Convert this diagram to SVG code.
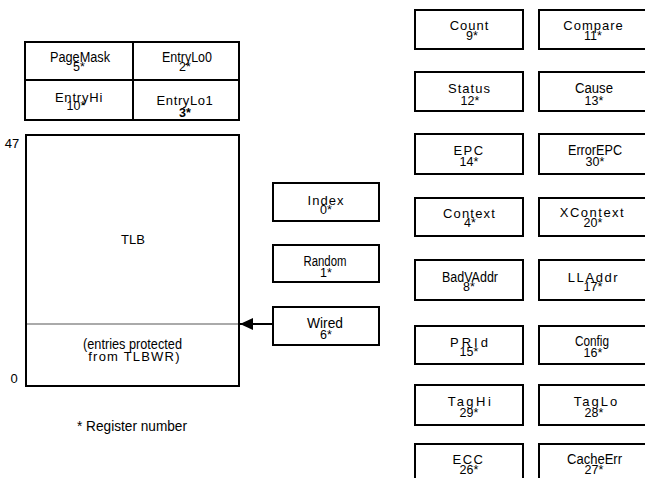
<svg xmlns="http://www.w3.org/2000/svg" width="645" height="478" viewBox="0 0 645 478">
<style>
.box{fill:#fff;stroke:#000;stroke-width:2}
text{font-family:"Liberation Sans",Arial,sans-serif;font-size:13px;fill:#000;text-anchor:middle}
.nw{font-size:14px}
.n{font-size:12.5px}
</style>
<defs>
<marker id="ah" markerWidth="14" markerHeight="14" refX="13" refY="6" orient="auto" markerUnits="userSpaceOnUse">
<path d="M0,0 L13,6 L0,12 Z" fill="#000"/>
</marker>
</defs>
<rect width="645" height="478" fill="#fff"/>
<g id="tlbregs">
<rect class="box" x="25" y="42" width="214" height="78"/>
<line x1="133" y1="42" x2="133" y2="120" stroke="#000" stroke-width="2"/>
<line x1="25" y1="80" x2="239" y2="80" stroke="#000" stroke-width="2"/>
</g>
<g id="pagemask"><text class="nw" x="80" y="61.5" textLength="60" lengthAdjust="spacingAndGlyphs">PageMask</text><text class="n" x="79" y="70.5">5*</text></g>
<g id="entrylo0"><text class="nw" x="187" y="61.5" textLength="50" lengthAdjust="spacingAndGlyphs">EntryLo0</text><text class="n" x="185" y="70.5">2*</text></g>
<g id="entryhi"><text x="79" y="101.5" letter-spacing="0.8">EntryHi</text><text class="n" x="76" y="110">10*</text></g>
<g id="entrylo1"><text x="185" y="105" letter-spacing="0.6">EntryLo1</text><text class="n" x="185" y="116.5" font-weight="bold">3*</text></g>
<g id="tlb">
<rect class="box" x="26" y="135" width="213" height="251"/>
<line x1="27" y1="324" x2="238" y2="324" stroke="#aaa" stroke-width="2"/>
<text x="133" y="244">TLB</text>
<text class="nw" x="132.5" y="349" textLength="99" lengthAdjust="spacingAndGlyphs">(entries protected</text>
<text x="134.5" y="361" letter-spacing="1.2">from TLBWR)</text>
<text x="12" y="148">47</text>
<text x="14" y="383">0</text>
</g>
<g id="index"><rect class="box" x="273" y="183" width="106" height="38"/><text x="326" y="205" letter-spacing="1">Index</text><text class="n" x="326" y="213.5">0*</text></g>
<g id="random"><rect class="box" x="273" y="245" width="106" height="37"/><text class="nw" x="325" y="266" textLength="43" lengthAdjust="spacingAndGlyphs">Random</text><text class="n" x="326" y="276.5">1*</text></g>
<g id="wired"><rect class="box" x="273" y="307" width="106" height="38"/><text class="nw" x="325" y="328" textLength="36" lengthAdjust="spacingAndGlyphs">Wired</text><text class="n" x="326" y="339">6*</text></g>
<g id="connectors">
<line x1="273" y1="324" x2="240" y2="324" stroke="#000" stroke-width="2" marker-end="url(#ah)"/>
</g>
<g id="count"><rect class="box" x="415" y="10" width="108" height="39"/><text x="469.5" y="30" letter-spacing="1">Count</text><text class="n" x="472" y="40">9*</text></g>
<g id="compare"><rect class="box" x="539" y="10" width="108" height="39"/><text x="593.5" y="30" letter-spacing="1">Compare</text><text class="n" x="593" y="40">11*</text></g>
<g id="status"><rect class="box" x="415" y="72" width="108" height="39"/><text x="469.5" y="93" letter-spacing="1">Status</text><text class="n" x="470" y="105">12*</text></g>
<g id="cause"><rect class="box" x="539" y="72" width="108" height="39"/><text class="nw" x="594" y="93" textLength="38" lengthAdjust="spacingAndGlyphs">Cause</text><text class="n" x="594" y="105">13*</text></g>
<g id="epc"><rect class="box" x="415" y="134" width="108" height="40"/><text x="469" y="155" letter-spacing="1.5">EPC</text><text class="n" x="469" y="166">14*</text></g>
<g id="errorepc"><rect class="box" x="539" y="134" width="108" height="40"/><text class="nw" x="595" y="155" textLength="54" lengthAdjust="spacingAndGlyphs">ErrorEPC</text><text class="n" x="595" y="166">30*</text></g>
<g id="context"><rect class="box" x="415" y="198" width="108" height="38"/><text x="469.5" y="218" letter-spacing="1.2">Context</text><text class="n" x="470" y="227">4*</text></g>
<g id="xcontext"><rect class="box" x="539" y="198" width="108" height="38"/><text x="592.5" y="217" letter-spacing="1.5">XContext</text><text class="n" x="593" y="227">20*</text></g>
<g id="badvaddr"><rect class="box" x="415" y="260" width="108" height="40"/><text class="nw" x="470" y="281.5" textLength="56" lengthAdjust="spacingAndGlyphs">BadVAddr</text><text class="n" x="469" y="290.5">8*</text></g>
<g id="lladdr"><rect class="box" x="539" y="260" width="108" height="40"/><text x="593.5" y="281.5" letter-spacing="1.6">LLAddr</text><text class="n" x="593" y="290.5">17*</text></g>
<g id="prid"><rect class="box" x="415" y="326" width="108" height="38"/><text x="470.5" y="347" letter-spacing="3">PRId</text><text class="n" x="469" y="356">15*</text></g>
<g id="config"><rect class="box" x="539" y="326" width="108" height="38"/><text class="nw" x="592" y="346" textLength="34" lengthAdjust="spacingAndGlyphs">Config</text><text class="n" x="593" y="356.5">16*</text></g>
<g id="taghi"><rect class="box" x="415" y="385" width="108" height="40"/><text x="470.5" y="406" letter-spacing="2.5">TagHi</text><text class="n" x="469" y="416.5">29*</text></g>
<g id="taglo"><rect class="box" x="539" y="385" width="108" height="40"/><text x="596.5" y="406" letter-spacing="2">TagLo</text><text class="n" x="594" y="416.5">28*</text></g>
<g id="ecc"><rect class="box" x="415" y="444" width="108" height="40"/><text x="468.5" y="464" letter-spacing="1.5">ECC</text><text class="n" x="469" y="474">26*</text></g>
<g id="cacheerr"><rect class="box" x="539" y="444" width="108" height="40"/><text class="nw" x="594.5" y="464" textLength="55" lengthAdjust="spacingAndGlyphs">CacheErr</text><text class="n" x="594" y="474">27*</text></g>
<text class="nw" x="132" y="431" textLength="110" lengthAdjust="spacingAndGlyphs">* Register number</text>
</svg>
